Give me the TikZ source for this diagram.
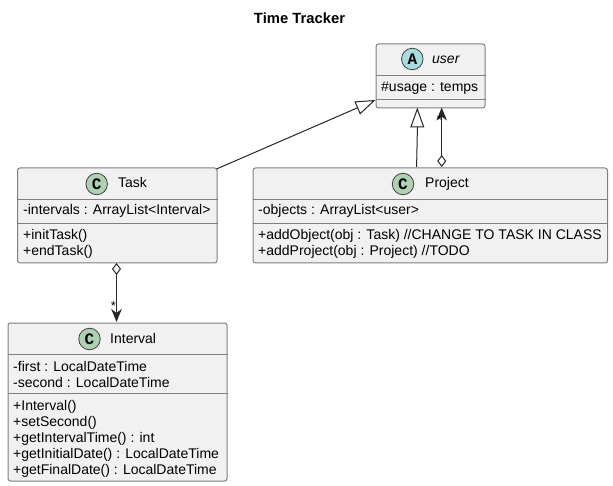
\documentclass[tikz,border=0pt]{standalone}
\usepackage{fontspec}
\setmainfont{Liberation Sans}
\newfontfamily\badgefont{Liberation Mono}
\usetikzlibrary{arrows.meta}
\definecolor{boxfill}{HTML}{F1F1F1}
\definecolor{boxline}{HTML}{7F7F7F}
\definecolor{classgreen}{HTML}{ADD1B2}
\definecolor{abstractblue}{HTML}{A9DCDF}
\tikzset{
  classbox/.style={draw=boxline, fill=boxfill, line width=1pt, rounded corners=2.5pt,
    anchor=north west, inner sep=0pt},
  sepline/.style={draw=boxline, line width=1pt},
  badge/.style={circle, draw=black!75, line width=0.8pt, minimum size=21.5pt, inner sep=0pt,
    font=\badgefont\bfseries\fontsize{16}{16}\selectfont},
  classname/.style={anchor=base west, inner sep=0pt, font=\fontsize{14}{16}\selectfont},
  member/.style={anchor=base west, inner sep=0pt, font=\fontsize{14}{16}\selectfont},
  multi/.style={inner sep=0pt, font=\fontsize{13}{13}\selectfont},
  link/.style={draw=black!85, line width=1pt},
  inherit/.style={link, -{Triangle[open, length=20pt, width=14pt, fill=white]}},
  aggreg/.style={link, {Diamond[open, length=12pt, width=9pt, fill=white]}-{Stealth[length=13pt, width=10.5pt, inset=4pt]}}
}
\begin{document}
\begin{tikzpicture}[x=1pt, y=-1pt]
  \useasboundingbox (0,0) rectangle (613,486);
  \node[inner sep=0pt, font=\bfseries\fontsize{14.8}{16}\selectfont] (title) at (299.5,18) {Time Tracker};

  % user
  \node[classbox, minimum width=109pt, minimum height=64pt] (user) at (375.5,43.5) {};
  \draw[sepline] (user.west |- 0,75.5) -- (user.east |- 0,75.5);
  \draw[sepline] (user.west |- 0,99.5) -- (user.east |- 0,99.5);
  \node[badge, fill=abstractblue] (userbadge) at (412.3,59) {A};
  \node[classname, font=\itshape\fontsize{14}{16}\selectfont] (username) at (432,64) {user};
  \node[member] (usage) at (381,92) {\#usage : temps};

  % Task
  \node[classbox, minimum width=199.5pt, minimum height=95pt] (task) at (17,167.5) {};
  \draw[sepline] (task.west |- 0,199.5) -- (task.east |- 0,199.5);
  \draw[sepline] (task.west |- 0,223.5) -- (task.east |- 0,223.5);
  \node[badge, fill=classgreen] (taskbadge) at (96.7,184) {C};
  \node[classname] (taskname) at (118,188) {Task};
  \node[member] (intervals) at (23,215) {-intervals : ArrayList<Interval>};
  \node[member] (inittask) at (23,240) {+initTask()};
  \node[member] (endtask) at (23,256) {+endTask()};

  % Project
  \node[classbox, minimum width=354.5pt, minimum height=95pt] (project) at (252.5,167.5) {};
  \draw[sepline] (project.west |- 0,199.5) -- (project.east |- 0,199.5);
  \draw[sepline] (project.west |- 0,223.5) -- (project.east |- 0,223.5);
  \node[badge, fill=classgreen] (projectbadge) at (403,184) {C};
  \node[classname] (projectname) at (425,188) {Project};
  \node[member] (objects) at (258,215) {-objects : ArrayList<user>};
  \node[member] (addobject) at (258,240) {+addObject(obj : Task) //CHANGE TO TASK IN CLASS};
  \node[member] (addproject) at (258,256) {+addProject(obj : Project) //TODO};

  % Interval
  \node[classbox, minimum width=219pt, minimum height=158pt] (interval) at (7.5,322.5) {};
  \draw[sepline] (interval.west |- 0,354.5) -- (interval.east |- 0,354.5);
  \draw[sepline] (interval.west |- 0,393.5) -- (interval.east |- 0,393.5);
  \node[badge, fill=classgreen] (intervalbadge) at (89.5,339) {C};
  \node[classname] (intervalname) at (110,343) {Interval};
  \node[member] (first) at (13,371) {-first : LocalDateTime};
  \node[member] (second) at (13,387) {-second : LocalDateTime};
  \node[member] (intervalm) at (13,410) {+Interval()};
  \node[member] (setsecond) at (13,426) {+setSecond()};
  \node[member] (gettime) at (13,442) {+getIntervalTime() : int};
  \node[member] (getinitial) at (13,458) {+getInitialDate() : LocalDateTime};
  \node[member] (getfinal) at (13,474) {+getFinalDate() : LocalDateTime};

  % connectors
  \coordinate (userleft) at (375.5,100);
  \coordinate (userin) at (417.3,107.5);
  \coordinate (userag) at (441.7,107.5);
  \coordinate (projout) at (416.7,167);
  \coordinate (projag) at (441.7,167);
  \coordinate (taskag) at (116.5,263);
  \coordinate (intervalin) at (116.5,322);
  \draw[inherit] (216.5,169) -- (userleft);
  \draw[inherit] (projout) .. controls (416.7,150) and (417.3,145) .. (userin);
  \draw[aggreg] (projag) -- (userag);
  \draw[aggreg] (taskag) -- (intervalin);
  \node[multi] (usermulti) at (439.5,120) {*};
  \node[multi] (intervalmulti) at (113.5,306) {*};
\end{tikzpicture}
\end{document}
